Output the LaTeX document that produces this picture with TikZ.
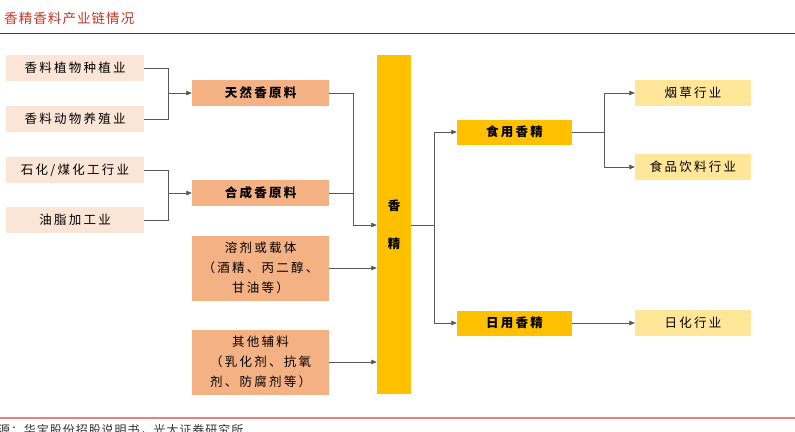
\documentclass[tikz,border=0pt]{standalone}
\usepackage{fontspec}
\newfontfamily\cjk[LetterSpace=18]{Noto Sans CJK SC}
\newfontfamily\cjktitle[LetterSpace=8]{Noto Sans CJK SC}
\usetikzlibrary{arrows.meta}
\definecolor{pinkc}{HTML}{FBE5D6}
\definecolor{orangec}{HTML}{F4B183}
\definecolor{goldc}{HTML}{FFC000}
\definecolor{yellowc}{HTML}{FFE699}
\definecolor{linec}{HTML}{595959}
\definecolor{titlered}{HTML}{C0392B}
\definecolor{rulered}{HTML}{C00000}
\definecolor{footred}{HTML}{E88080}
\begin{document}
\begin{tikzpicture}[x=1pt,y=-1pt,
  box/.style={inner sep=0pt, font=\cjk\fontsize{12.5}{20}\selectfont, align=center, text=black},
  pinkbox/.style={box, fill=pinkc, minimum width=138pt, minimum height=26pt},
  orangebox/.style={box, fill=orangec, minimum width=137pt},
  goldbox/.style={box, fill=goldc, minimum width=115pt, minimum height=25pt, font=\cjk\bfseries\fontsize{12.5}{20}\selectfont},
  yellowbox/.style={box, fill=yellowc, minimum width=116pt, minimum height=26pt},
  conn/.style={draw=linec, line width=0.8pt},
  arr/.style={conn, -{Triangle[length=5.5pt,width=4.5pt]}}
]
\useasboundingbox (0,0) rectangle (795,431);
\fill[white] (0,0) rectangle (795,431);
% title
\node[anchor=west, inner sep=0pt, text=titlered, font=\cjktitle\fontsize{13.5}{13.5}\selectfont] (title) at (4,18) {香精香料产业链情况};
\draw[rulered, line width=1pt] (0,33) -- (795,33);
% footer
\draw[footred, line width=1.5pt] (0,418) -- (795,418);
\node[anchor=west, inner sep=0pt, text=black!80, font=\cjktitle\fontsize{12}{12}\selectfont] (foot) at (-41,430) {资料来源：华宝股份招股说明书，光大证券研究所};

% left column
\node[pinkbox] (p1) at (75,68) {香料植物种植业};
\node[pinkbox] (p2) at (75,119) {香料动物养殖业};
\node[pinkbox] (p3) at (75,170) {石化/煤化工行业};
\node[pinkbox] (p4) at (75,220) {油脂加工业};

% second column
\node[orangebox, minimum height=26pt, font=\cjk\bfseries\fontsize{12.5}{20}\selectfont] (n1) at (260.5,93) {天然香原料};
\node[orangebox, minimum height=26pt, font=\cjk\bfseries\fontsize{12.5}{20}\selectfont] (n2) at (260.5,193) {合成香原料};
\node[orangebox, minimum height=65pt] (n3) at (260.5,268) {溶剂或载体\\（酒精、丙二醇、\\甘油等）};
\node[orangebox, minimum height=65pt] (n4) at (260.5,362) {其他辅料\\（乳化剂、抗氧\\剂、防腐剂等）};

% central bar
\node[box, fill=goldc, minimum width=34pt, minimum height=339pt, font=\cjk\bfseries\fontsize{12.5}{38}\selectfont] (bar) at (394,224.5) {香\\精};

% right columns
\node[goldbox] (f1) at (514.5,132) {食用香精};
\node[goldbox] (f2) at (514.5,323) {日用香精};
\node[yellowbox] (u1) at (693,93) {烟草行业};
\node[yellowbox] (u2) at (693,167) {食品饮料行业};
\node[yellowbox] (u3) at (693,323) {日化行业};

% connectors left
\coordinate (j1) at (168,93);
\draw[conn] (p1.east) -| (j1);
\draw[conn] (p2.east) -| (j1);
\draw[arr] (j1) -- (n1.west);
\coordinate (j2) at (168,193);
\draw[conn] (p3.east) -| (j2);
\draw[conn] (p4.east) -| (j2);
\draw[arr] (j2) -- (n2.west);

\coordinate (j3) at (353,225);
\draw[conn] (n1.east) -| (j3);
\draw[conn] (n2.east) -| (j3);
\draw[arr] (j3) -- (bar.west |- j3);
\draw[arr] (n3.east) -- (bar.west |- n3.east);
\draw[arr] (n4.east) -- (bar.west |- n4.east);

% connectors right
\coordinate (j4) at (434,225);
\draw[conn] (bar.east |- j4) -- (j4);
\draw[arr] (j4) |- (f1.west);
\draw[arr] (j4) |- (f2.west);
\coordinate (j5) at (604,132);
\draw[conn] (f1.east) -- (j5);
\draw[arr] (j5) |- (u1.west);
\draw[arr] (j5) |- (u2.west);
\draw[arr] (f2.east) -- (u3.west);
\end{tikzpicture}
\end{document}
